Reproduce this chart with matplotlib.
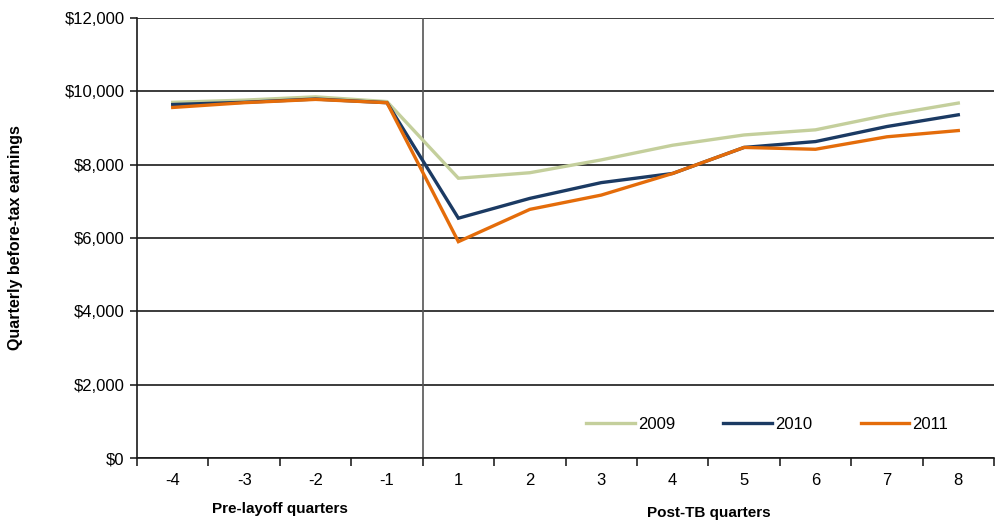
import matplotlib
matplotlib.use("Agg")
import matplotlib.pyplot as plt
from matplotlib.ticker import FuncFormatter, FixedLocator, NullFormatter

# Quarter labels relative to the layoff / TB event
quarters = ["-4", "-3", "-2", "-1", "1", "2", "3", "4", "5", "6", "7", "8"]

# Quarterly before-tax earnings by layoff year (dollars)
earn_2009 = [9700, 9760, 9850, 9720, 7630, 7780, 8130, 8530, 8810, 8950, 9350, 9680]
earn_2010 = [9640, 9700, 9790, 9690, 6540, 7080, 7510, 7760, 8470, 8630, 9040, 9360]
earn_2011 = [9560, 9690, 9780, 9690, 5900, 6780, 7170, 7760, 8470, 8420, 8760, 8930]

series_names = ["2009", "2010", "2011"]
series_colors = ["#c4cf9c", "#1b3a63", "#e46c0a"]

plt.rcParams["font.family"] = ["Liberation Sans Narrow", "Liberation Sans", "DejaVu Sans"]

fig = plt.figure(figsize=(9.97, 5.27), dpi=100)
ax = fig.add_axes([137 / 997, 1 - 458 / 527, (994 - 137) / 997, (458 - 18) / 527])

x = list(range(len(quarters)))
for vals, name, col in zip([earn_2009, earn_2010, earn_2011], series_names, series_colors):
    ax.plot(x, vals, color=col, lw=2.4, label=name, solid_joinstyle="miter", zorder=3)

ax.set_xlim(-0.5, len(quarters) - 0.5)
ax.set_ylim(0, 12000)

# y axis: dollar ticks with horizontal gridlines
ax.set_yticks(range(0, 12001, 2000))
ax.yaxis.set_major_formatter(FuncFormatter(lambda v, p: f"${int(v):,}"))
ax.grid(axis="y", color="#1a1a1a", lw=1.2, zorder=1)
ax.tick_params(axis="y", length=5, width=1.2, color="#222222", labelsize=12, pad=4)

# x axis: ticks between categories, labels centred on categories
ax.xaxis.set_major_locator(FixedLocator([i - 0.5 for i in range(len(quarters) + 1)]))
ax.xaxis.set_major_formatter(NullFormatter())
ax.xaxis.set_minor_locator(FixedLocator(x))
ax.set_xticklabels(quarters, minor=True)
ax.tick_params(axis="x", which="major", length=6, width=1.2, color="#222222")
ax.tick_params(axis="x", which="minor", length=0, labelsize=12, pad=11)

for side in ["top", "right"]:
    ax.spines[side].set_visible(False)
for side in ["left", "bottom"]:
    ax.spines[side].set_color("#1a1a1a")
    ax.spines[side].set_linewidth(1.2)

# separator between pre-layoff and post-TB quarters
ax.axvline(3.5, color="#555555", lw=1.2, zorder=2)

ax.set_ylabel("Quarterly before-tax earnings", fontsize=11.5, fontweight="bold", labelpad=30)

ax.text(1.5, -0.115, "Pre-layoff quarters", transform=ax.get_xaxis_transform(),
        ha="center", va="center", fontsize=11, fontweight="bold")
ax.text(7.5, -0.125, "Post-TB quarters", transform=ax.get_xaxis_transform(),
        ha="center", va="center", fontsize=11, fontweight="bold")

ax.legend(loc="lower right", bbox_to_anchor=(0.964, 0.025), ncol=3, frameon=False,
          fontsize=12, handlelength=2.9, handletextpad=0.2, columnspacing=2.9)

fig.savefig("out.png", dpi=100, facecolor="white")
